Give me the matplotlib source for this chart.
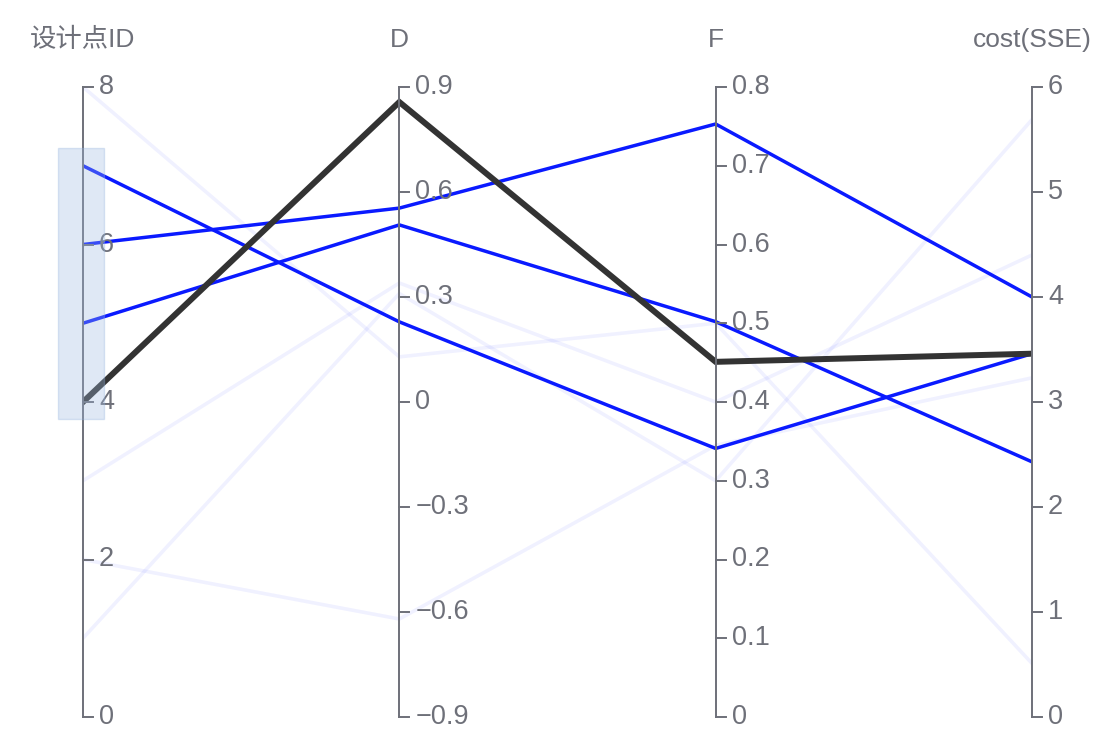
import matplotlib
matplotlib.use("Agg")
import matplotlib.pyplot as plt
import numpy as np
from matplotlib.patches import Rectangle

plt.rcParams["font.family"] = ["Liberation Sans", "Noto Sans CJK SC", "DejaVu Sans"]

# dimensions
dim_names = ["设计点ID", "D", "F", "cost(SSE)"]
dim_ranges = [(0, 8), (-0.9, 0.9), (0, 0.8), (0, 6)]
dim_ticks = [
    [0, 2, 4, 6, 8],
    [-0.9, -0.6, -0.3, 0, 0.3, 0.6, 0.9],
    [0, 0.1, 0.2, 0.3, 0.4, 0.5, 0.6, 0.7, 0.8],
    [0, 1, 2, 3, 4, 5, 6],
]

# data (one row per design point)
ids = [1, 2, 3, 4, 5, 6, 7, 8]
d_vals = [0.31, -0.62, 0.34, 0.857, 0.506, 0.554, 0.229, 0.129]
f_vals = [0.30, 0.345, 0.40, 0.451, 0.502, 0.753, 0.341, 0.50]
cost_vals = [5.69, 3.23, 4.40, 3.46, 2.43, 4.00, 3.46, 0.51]

brush_range = [3.78, 7.22]   # brush on the ID axis
emph_id = 4                  # highlighted line

TEXT_C = "#6e7079"
BLUE = "#0a1aff"
DARK = "#333333"

fig = plt.figure(figsize=(11, 7.5), dpi=100)
ax = fig.add_axes([83 / 1100, 33 / 750, 949 / 1100, 630 / 750])
ax.set_xlim(0, 3)
ax.set_ylim(0, 1)
ax.axis("off")

px_x = 3 / 949
px_y = 1 / 630


def norm(v, k):
    lo, hi = dim_ranges[k]
    return (np.asarray(v, dtype=float) - lo) / (hi - lo)


def fmt(v):
    s = f"{np.round(v, 6):g}"
    return s.replace("-", "\u2212")


cols = [ids, d_vals, f_vals, cost_vals]
data = np.column_stack([norm(c, k) for k, c in enumerate(cols)])
xs = np.arange(len(dim_names))

# inactive lines first, then active, then emphasised
active = [(brush_range[0] <= i <= brush_range[1]) for i in ids]
for row, a in zip(data, active):
    if not a:
        ax.plot(xs, row, color=BLUE, alpha=0.06, lw=2.6, solid_joinstyle="miter", zorder=2)
for row, a, i in zip(data, active, ids):
    if a and i != emph_id:
        ax.plot(xs, row, color=BLUE, lw=2.5, solid_joinstyle="miter", zorder=3)
for row, i in zip(data, ids):
    if i == emph_id:
        ax.plot(xs, row, color=DARK, lw=4.3, solid_joinstyle="miter", zorder=4)

# axes
tick_len = 10 * px_x
for k, name in enumerate(dim_names):
    ax.plot([k, k], [0, 1], color=TEXT_C, lw=1.4, zorder=5, clip_on=False)
    for t in dim_ticks[k]:
        y = norm(t, k)
        ax.plot([k, k + tick_len], [y, y], color=TEXT_C, lw=1.4, zorder=5, clip_on=False)
        ax.text(k + 16 * px_x, y, fmt(t), ha="left", va="center", fontsize=19.5,
                color=TEXT_C, clip_on=False, zorder=6)
    ax.text(k, 1 + 47 * px_y, name, ha="center", va="center", fontsize=19,
            color=TEXT_C, clip_on=False)

# brush area on the ID axis
b0, b1 = norm(brush_range, 0)
ax.add_patch(Rectangle((0 - 25 * px_x, b0), 46 * px_x, b1 - b0, facecolor="#9ebae0",
                       alpha=0.32, edgecolor="#8fb0dc", lw=1, zorder=7, clip_on=False))

fig.savefig("out.png", dpi=100, facecolor="white")
